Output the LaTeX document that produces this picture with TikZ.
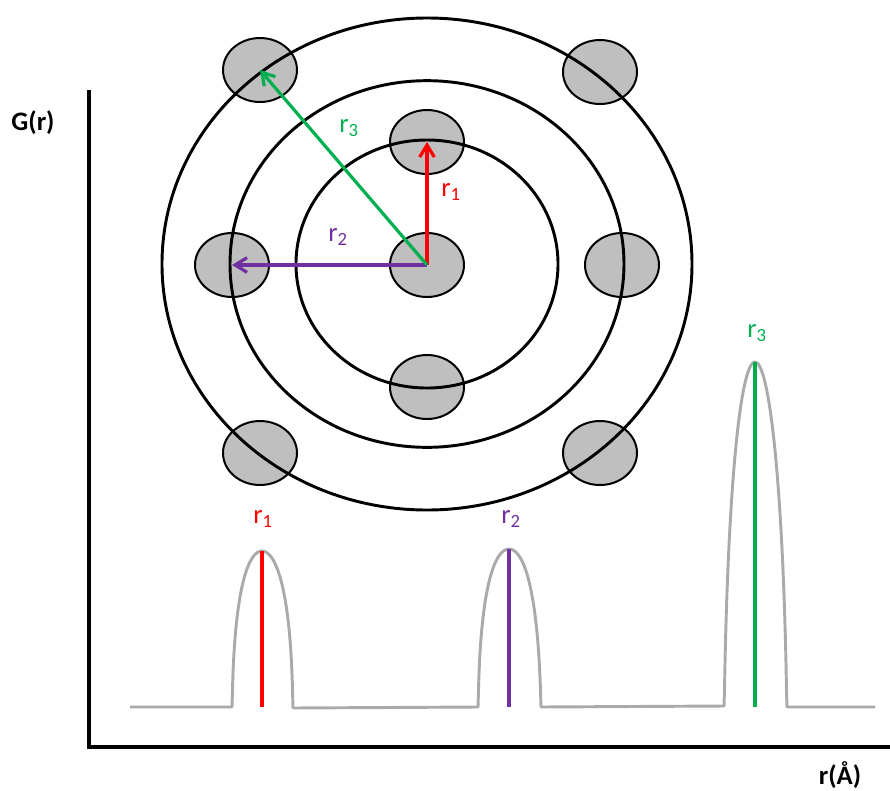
\documentclass[tikz,border=0pt]{standalone}
\usepackage{fontspec}
\setmainfont{Carlito}
\usetikzlibrary{shapes.geometric,arrows.meta}
\definecolor{atomgray}{RGB}{191,191,191}
\definecolor{peakgray}{RGB}{170,170,170}
\definecolor{rred}{RGB}{255,0,0}
\definecolor{rpurple}{RGB}{112,48,160}
\definecolor{rgreen}{RGB}{0,176,80}
\tikzset{
  atom/.style={ellipse,draw=black,fill=atomgray,line width=1.5pt,minimum width=55.5pt,minimum height=48pt,inner sep=0pt},
  ring/.style={draw=black,line width=2.2pt},
  vec/.style={line width=2.4pt,-{Straight Barb[length=9pt,width=11pt,line width=2.4pt]}},
  peak/.style={draw=peakgray,line width=2.2pt,line join=round},
  stem/.style={line width=2.4pt},
  lbl/.style={font=\fontsize{20}{24}\selectfont,inner sep=0pt},
  axlbl/.style={font=\fontsize{20}{24}\selectfont\bfseries,inner sep=0pt},
  axis/.style={line width=3pt}
}
\begin{document}
\begin{tikzpicture}[x=0.75pt,y=-0.75pt]
\useasboundingbox (0,0) rectangle (890,790);
% atoms
\node[atom] (c) at (427,265) {};
\node[atom] (t) at (427,142) {};
\node[atom] (b) at (427,387) {};
\node[atom] (l) at (232,265) {};
\node[atom] (r) at (622,265) {};
\node[atom] (tl) at (260,70) {};
\node[atom] (tr) at (600,72) {};
\node[atom] (bl) at (260,453) {};
\node[atom] (br) at (600,453) {};
% rings
\coordinate (o) at (427,264);
\draw[ring] (o) ellipse [x radius=98.25pt, y radius=93pt];
\draw[ring] (o) ellipse [x radius=147.75pt, y radius=137.5pt];
\draw[ring] (o) ellipse [x radius=198.75pt, y radius=184.5pt];
% vectors
\draw[vec,rred] (c.center) -- (t.center);
\draw[vec,rpurple] (c.center) -- (l.center);
\draw[vec,rgreen] (c.center) -- (tl.center);
\node[lbl,text=rred] (lr1) at (451,192) {r\textsubscript{1}};
\node[lbl,text=rpurple] (lr2) at (338,237) {r\textsubscript{2}};
\node[lbl,text=rgreen] (lr3) at (349,128) {r\textsubscript{3}};
% axes
\coordinate (ytop) at (89,90);
\coordinate (orig) at (89,747);
\coordinate (xend) at (890,747);
\draw[axis] (ytop) -- (orig) -- (xend);
\node[axlbl] (gr) at (33,123) {G(r)};
\node[axlbl] (rA) at (840,775) {r(Å)};
% peaks
\draw[peak] (130,707) -- (232,707) -- (232.5,690)
  .. controls (235,585) and (249,551) .. (262,551)
  .. controls (275,551) and (290,585) .. (292.5,690)
  -- (293,708) -- (478,707) -- (478.5,690)
  .. controls (481,585) and (495,549) .. (509,549)
  .. controls (523,549) and (537,585) .. (540.5,690)
  -- (541,707) -- (724,706) -- (724.5,690)
  .. controls (728,480) and (741,362) .. (755,362)
  .. controls (769,362) and (783,480) .. (786.5,690)
  -- (787,707) -- (875,707);
\coordinate (p1t) at (262,551); \coordinate (p1b) at (262,707);
\coordinate (p2t) at (509,549); \coordinate (p2b) at (509,707);
\coordinate (p3t) at (755,362); \coordinate (p3b) at (755,707);
\draw[stem,rred] (p1t) -- (p1b);
\draw[stem,rpurple] (p2t) -- (p2b);
\draw[stem,rgreen] (p3t) -- (p3b);
\node[lbl,text=rred] (pl1) at (263,519) {r\textsubscript{1}};
\node[lbl,text=rpurple] (pl2) at (511,519) {r\textsubscript{2}};
\node[lbl,text=rgreen] (pl3) at (757,333) {r\textsubscript{3}};
\end{tikzpicture}
\end{document}
